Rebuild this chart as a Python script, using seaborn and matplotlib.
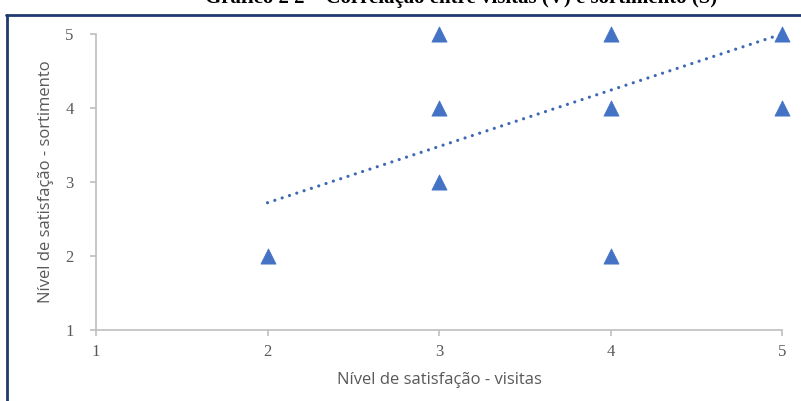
import matplotlib
matplotlib.use("Agg")
import matplotlib.pyplot as plt
import seaborn as sns
import pandas as pd
from matplotlib.lines import Line2D

# Satisfaction levels (1-5) for visits (V) and assortment (S)
visitas = [2, 3, 3, 3, 4, 4, 4, 5, 5]
sortimento = [2, 5, 4, 3, 5, 4, 2, 5, 4]

# Linear trend line, evaluated at its two ends
trend_x = [2, 5]
trend_y = [2.72, 5.0]

ticks = [1, 2, 3, 4, 5]

title = "Gráfico 2 2 – Correlação entre visitas (V) e sortimento (S)"
xlabel = "Nível de satisfação - visitas"
ylabel = "Nível de satisfação - sortimento"

sns.set_theme(style="white")
plt.rcParams["font.family"] = ["Liberation Serif", "DejaVu Serif"]

fig = plt.figure(figsize=(8.01, 4.01), dpi=100)
ax = fig.add_axes([96 / 801, 71 / 401, 686 / 801, 296 / 401])

df = pd.DataFrame({"x": visitas, "y": sortimento})
tr = pd.DataFrame({"x": trend_x, "y": trend_y})

blue = "#4472C4"
sns.lineplot(data=tr, x="x", y="y", ax=ax, color="#3d68b3", linewidth=2.3,
             zorder=2)
for ln in ax.get_lines():
    ln.set_dashes([0.01, 2.4])
    ln.set_dash_capstyle("round")

sns.scatterplot(data=df, x="x", y="y", ax=ax, marker="^", s=120, color=blue,
                edgecolor=blue, linewidth=0.5, zorder=3, clip_on=False)

ax.set_xlim(1, 5)
ax.set_ylim(1, 5)
ax.set_xticks(ticks)
ax.set_yticks(ticks)
ax.set_xticklabels([str(t) for t in ticks])
ax.set_yticklabels([str(t) for t in ticks])

gray_axis = "#bfbfbf"
for side in ["top", "right"]:
    ax.spines[side].set_visible(False)
for side in ["left", "bottom"]:
    ax.spines[side].set_color(gray_axis)
    ax.spines[side].set_linewidth(1.2)

ax.tick_params(axis="both", which="major", direction="out", length=4,
               width=1.2, color=gray_axis, labelcolor="#595959",
               labelsize=12, bottom=True, left=True)
ax.tick_params(axis="x", pad=6)
ax.tick_params(axis="y", pad=12)

label_font = dict(family=["Open Sans", "DejaVu Sans"], size=12,
                  color="#595959")
ax.set_xlabel(xlabel, labelpad=9, **label_font)
ax.set_ylabel(ylabel, labelpad=8, **label_font)
ax.grid(False)

# Title (clipped by the top of the canvas)
fig.text(0.575, 1 - 3 / 401, title, ha="center", va="baseline",
         fontsize=15, fontweight="bold", color="#000000",
         family=["Liberation Serif", "DejaVu Serif"])

# Dark frame lines at the top and left
navy = "#1f3a6e"
fig.add_artist(Line2D([6 / 801, 1.0], [1 - 14.5 / 401, 1 - 14.5 / 401],
                      transform=fig.transFigure, color=navy, linewidth=2))
fig.add_artist(Line2D([6.5 / 801, 6.5 / 801], [0.0, 1 - 14.5 / 401],
                      transform=fig.transFigure, color=navy, linewidth=2))

fig.savefig("out.png", dpi=100)
